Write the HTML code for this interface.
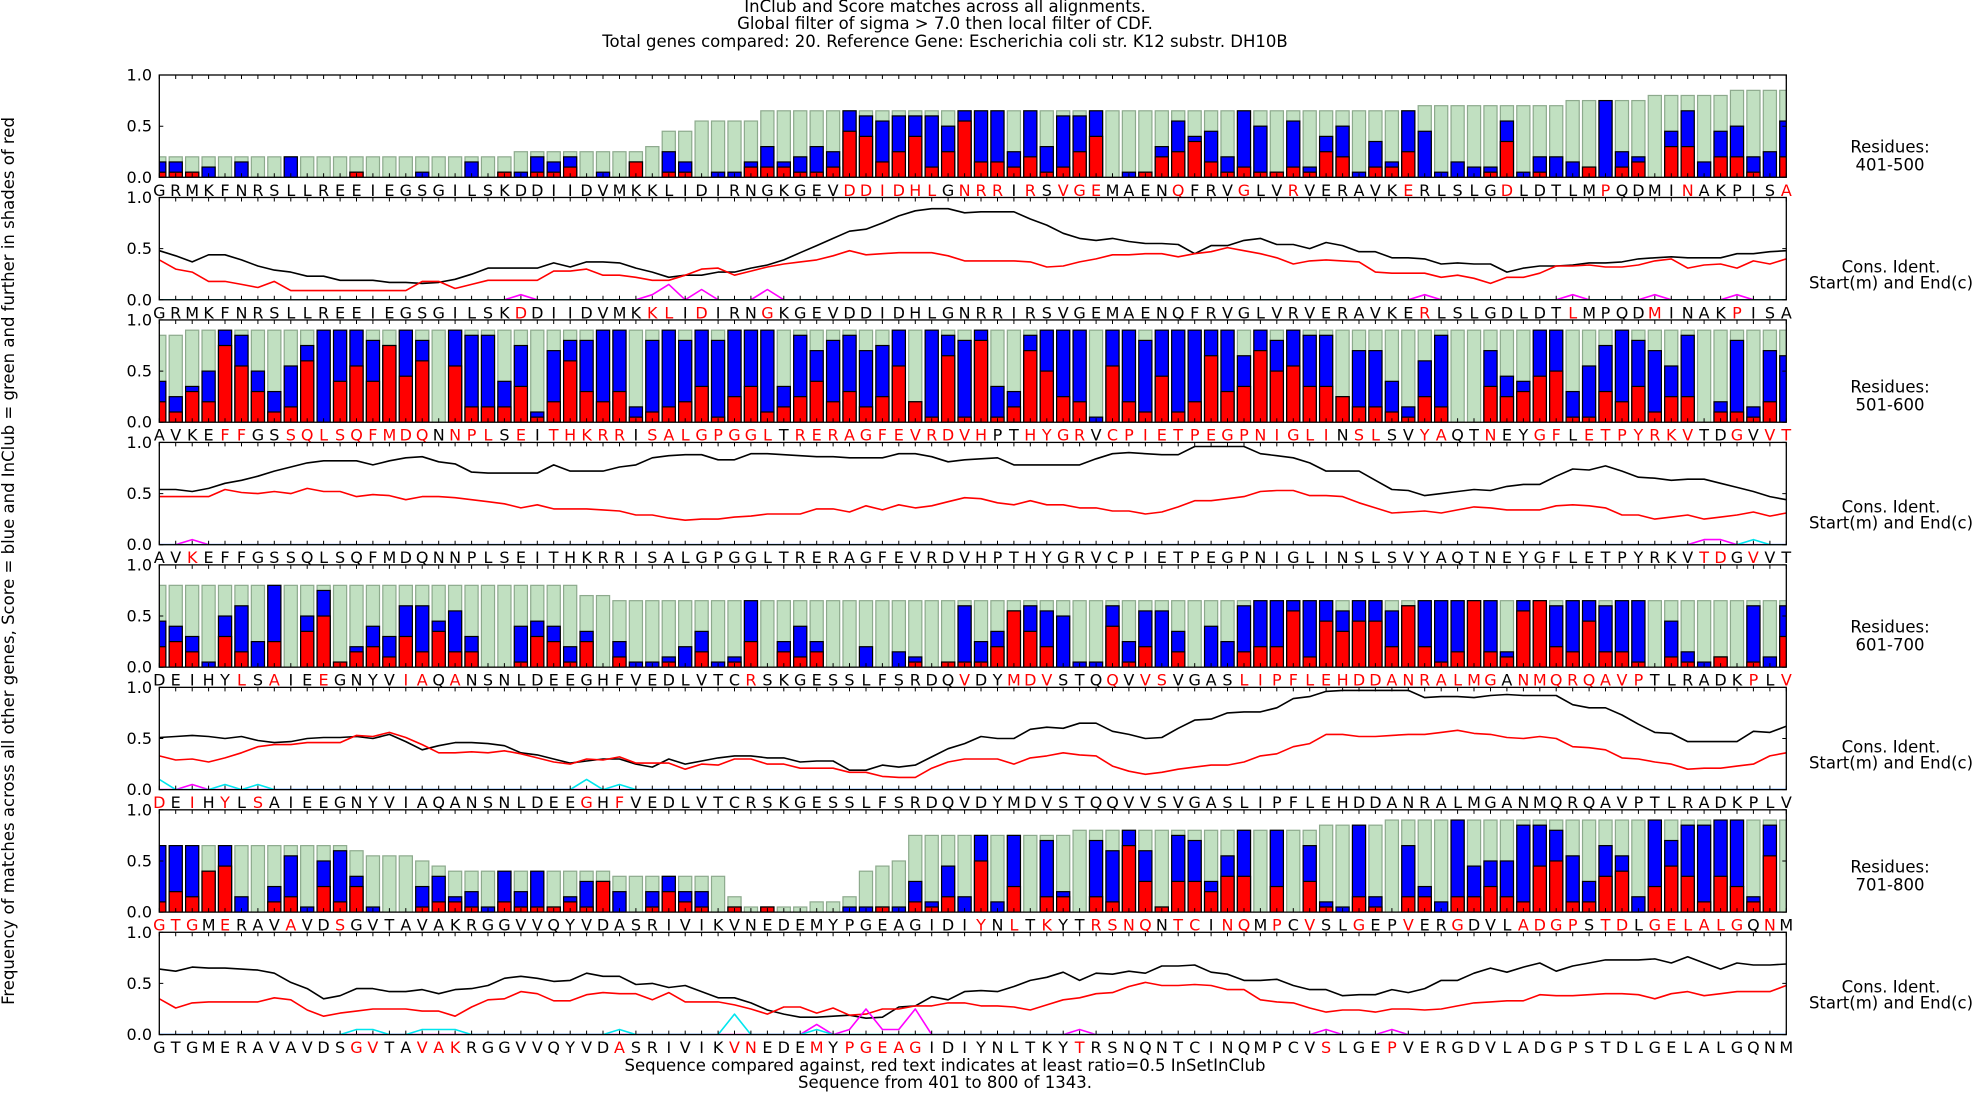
<!DOCTYPE html>
<html><head><meta charset="utf-8">
<style>
html,body{margin:0;padding:0;background:#fff;}
svg{display:block;font-family:"DejaVu Sans","Liberation Sans",sans-serif;}
</style></head>
<body>
<svg id="chart" width="1976" height="1094" viewBox="0 0 1976 1094" xmlns="http://www.w3.org/2000/svg">
<rect x="0" y="0" width="1976" height="1094" fill="#fff"/>
<g font-size="16.5" text-anchor="middle" fill="#000">
<text x="945" y="12">InClub and Score matches across all alignments.</text>
<text x="945" y="29">Global filter of sigma &gt; 7.0 then local filter of CDF.</text>
<text x="945" y="47">Total genes compared: 20. Reference Gene: Escherichia coli str. K12 substr. DH10B</text>
</g>
<text font-size="16.5" text-anchor="middle" transform="translate(14,561) rotate(-90)">Frequency of matches across all other genes, Score = blue and InClub = green and further in shades of red</text>
<g font-size="16.5" text-anchor="middle">
<text x="945" y="1071">Sequence compared against, red text indicates at least ratio=0.5 InSetInClub</text>
<text x="945" y="1088">Sequence from 401 to 800 of 1343.</text>
</g>
<g id="panels"></g>
</svg>
<script>
// ---------- sequences ----------
const seqs = [
"GRMKFNRSLLREEIEGSGILSKDDIIDVMKKLIDIRNGKGEVDDIDHLGNRRIRSVGEMAENQFRVGLVRVERAVKERLSLGDLDTLMPQDMINAKPISA",
"AVKEFFGSSQLSQFMDQNNPLSEITHKRRISALGPGGLTRERAGFEVRDVHPTHYGRVCPIETPEGPNIGLINSLSVYAQTNEYGFLETPYRKVTDGVVT",
"DEIHYLSAIEEGNYVIAQANSNLDEEGHFVEDLVTCRSKGESSLFSRDQVDYMDVSTQQVVSVGASLIPFLEHDDANRALMGANMQRQAVPTLRADKPLV",
"GTGMERAVAVDSGVTAVAKRGGVVQYVDASRIVIKVNEDEMYPGEAGIDIYNLTKYTRSNQNTCINQMPCVSLGEPVERGDVLADGPSTDLGELALGQNM"];
const rangeLabels = ["401-500","501-600","601-700","701-800"];
const red1=[42,43,44,45,46,47,49,50,51,53,55,56,57,62,66,69,76,82,88,93,99];
const red2=[22,30,31,33,37,77,86,91,96];
const red3=[4,5,8,9,10,11,12,13,14,15,16,18,19,20,22,24,25,26,27,28,30,31,32,33,34,35,36,37,39,40,41,42,43,44,45,46,47,48,49,50,53,54,55,56,58,59,60,61,62,63,64,65,66,67,68,69,70,71,73,74,77,78,81,84,85,87,88,89,90,91,92,93,96,98,99];
const red4=[2,94,95,97];
const red5=[5,7,10,15,16,18,36,49,52,53,54,58,60,61,66,67,68,69,70,71,72,73,74,75,76,77,78,79,80,81,83,84,85,86,87,88,89,90,97,99];
const red6=[0,2,4,6,26,28];
const red7=[0,1,2,4,8,11,50,52,54,57,58,59,60,62,63,65,66,68,70,73,76,79,83,84,85,86,88,89,91,92,93,94,95,96,98];
const red8=[12,13,16,17,18,28,35,36,40,42,43,44,45,46,56,71,75];

// ---------- bar data (InClub=green, Score=blue, red) ----------
const g1=[.2,.2,.2,.2,.2,.2,.2,.2,.2,.2, .2,.2,.2,.2,.2,.2,.2,.2,.2,.2, .2,.2,.25,.25,.25,.25,.25,.25,.25,.25, .3,.45,.45,.55,.55,.55,.55,.65,.65,.65,
.65,.65,.65,.65,.65,.65,.65,.65,.65,.65, .65,.65,.65,.65,.65,.65,.65,.65,.65,.65, .65,.65,.65,.65,.65,.65,.65,.65,.65,.65, .65,.65,.65,.65,.65,.65,.65,.7,.7,.7,
.7,.7,.7,.7,.7,.7,.75,.75,.75,.75, .75,.8,.8,.8,.8,.8,.85,.85,.85,.85];
const b1=[.15,.15,.05,.1,0,.15,0,0,.2,0, 0,0,.05,0,0,0,.05,0,0,.15, 0,.05,.05,.2,.15,.2,0,.05,0,.15, 0,.25,.15,0,.05,.05,.15,.3,.15,.2,
.3,.25,.65,.6,.55,.6,.6,.6,.5,.65, .65,.65,.25,.65,.3,.6,.6,.65,0,.05, .05,.3,.55,.4,.45,.2,.65,.5,.05,.55, .1,.4,.5,.05,.35,.15,.65,.45,.05,.15,
.1,.1,.55,.05,.2,.2,.15,.1,.75,.25, .2,0,.45,.65,.15,.45,.5,.2,.25,.55];
const r1=[.05,.05,.05,0,0,0,0,0,0,0, 0,0,.05,0,0,0,0,0,0,0, 0,.05,0,.05,.05,.1,0,0,0,.15, 0,.05,.05,0,0,0,.1,.1,.1,.05,
.05,.1,.45,.4,.15,.25,.4,.1,.25,.55, .15,.15,.1,.2,.05,.1,.25,.4,0,0, .05,.2,.25,.35,.15,.05,.1,.05,.05,.1, .05,.25,.2,0,.1,.1,.25,0,0,0,
0,.05,.35,0,.05,0,0,.1,0,.1, .15,0,.3,.3,0,.2,.2,.05,0,.2];

const g3=[.85,.85,.9,.9,.9,.9,.9,.9,.9,.9, .9,.9,.9,.9,.9,.9,.9,.9,.9,.9, .9,.9,.9,.9,.9,.9,.9,.9,.9,.9, .9,.9,.9,.9,.9,.9,.9,.9,.9,.9,
.9,.9,.9,.9,.9,.9,.9,.9,.9,.9, .9,.9,.9,.9,.9,.9,.9,.9,.9,.9, .9,.9,.9,.9,.9,.9,.9,.9,.9,.9, .9,.9,.9,.9,.9,.9,.9,.9,.9,.9,
.9,.9,.9,.9,.9,.9,.9,.9,.9,.9, .9,.9,.9,.9,.9,.9,.9,.9,.9,.9];
const b3=[.4,.25,.35,.5,.9,.85,.5,.3,.55,.75, .9,.9,.9,.8,.75,.9,.8,0,.9,.85, .85,.4,.75,.1,.7,.8,.8,.9,.9,.15, .8,.9,.8,.9,.8,.9,.9,.9,.35,.85,
.7,.8,.85,.7,.75,.9,.2,.9,.85,.8, .9,.35,.3,.85,.9,.9,.9,.05,.9,.9, .8,.9,.9,.9,.9,.9,.65,.9,.8,.9, .85,.85,.25,.7,.7,.4,.15,.6,.85,0,
0,.7,.45,.4,.9,.9,.3,.55,.75,.9, .8,.7,.55,.85,0,.2,.8,.15,.7,.65];
const r3=[.2,.1,.3,.2,.75,.55,.3,.1,.15,.6, 0,.4,.55,.4,.75,.45,.6,0,.55,.15, .15,.15,.35,.05,.2,.6,.3,.2,.3,.05, .1,.15,.2,.35,.05,.25,.35,.1,.15,.25,
.4,.2,.3,.15,.25,.55,.2,.05,.65,.05, .8,.05,.15,.7,.5,.25,.2,0,.55,.2, .1,.45,.1,.2,.65,.3,.35,.7,.5,.55, .35,.35,.25,.15,.15,.1,.05,.25,.15,0,
0,.35,.25,.3,.45,.5,.05,.05,.3,.2, .35,.1,.25,.25,0,.1,.1,.05,.2,0];

const g5=[.8,.8,.8,.8,.8,.8,.8,.8,.8,.8, .8,.8,.8,.8,.8,.8,.8,.8,.8,.8, .8,.8,.8,.8,.8,.8,.7,.7,.65,.65, .65,.65,.65,.65,.65,.65,.65,.65,.65,.65,
.65,.65,.65,.65,.65,.65,.65,.65,.65,.65, .65,.65,.65,.65,.65,.65,.65,.65,.65,.65, .65,.65,.65,.65,.65,.65,.65,.65,.65,.65, .65,.65,.65,.65,.65,.65,.65,.65,.65,.65,
.65,.65,.65,.65,.65,.65,.65,.65,.65,.65, .65,.65,.65,.65,.65,.65,.65,.65,.65,.65];
const b5=[.45,.4,.3,.05,.5,.6,.25,.8,0,.5, .75,.05,.2,.4,.3,.6,.6,.45,.55,.3, 0,0,.4,.45,.4,.2,.35,0,.25,.05, .05,.1,.2,.35,.05,.1,.65,0,.25,.4,
.25,0,0,.2,0,.15,.1,0,.05,.6, .25,.35,.55,.6,.55,.5,.05,.05,.6,.25, .55,.55,.35,0,.4,.25,.6,.65,.65,.65, .65,.65,.55,.65,.65,.55,.6,.65,.65,.65,
.65,.65,.15,.65,.65,.6,.65,.65,.6,.65, .65,0,.45,.15,.05,.1,0,.6,.1,.6];
const r5=[.2,.25,.15,0,.3,.15,0,.25,0,.35, .5,.05,.15,.2,.1,.3,.15,.35,.15,.15, 0,0,.05,.3,.25,.05,.25,0,.1,0, 0,.05,0,.15,0,.05,.25,0,.15,.1,
.15,0,0,0,0,0,.05,0,.05,.05, .05,.2,.55,.35,.2,0,0,0,.4,.05, .2,0,.15,0,0,0,.15,.2,.2,.55, .1,.45,.35,.45,.45,.2,.6,.2,.05,.15,
.65,.15,.1,.55,.65,.2,.15,.45,.15,.15, .05,0,.1,.05,0,.1,0,.05,0,.3];

const g7=[.65,.65,.65,.65,.65,.65,.65,.65,.65,.65, .65,.65,.6,.55,.55,.55,.5,.45,.4,.4, .4,.4,.4,.4,.4,.4,.4,.4,.35,.35, .35,.35,.35,.35,.35,.15,.05,.05,.05,.05,
.1,.1,.15,.4,.45,.5,.75,.75,.75,.75, .75,.75,.75,.75,.75,.75,.8,.8,.8,.8, .8,.8,.8,.8,.8,.8,.8,.8,.8,.8, .8,.85,.85,.85,.85,.9,.9,.9,.9,.9,
.9,.9,.9,.9,.9,.9,.9,.9,.9,.9, .9,.9,.9,.9,.9,.9,.9,.9,.9,.9];
const b7=[.65,.65,.65,.4,.65,.15,0,.25,.55,.05, .5,.6,.35,.05,0,0,.25,.35,.15,.2, .05,.4,.2,.4,.05,.15,.3,.3,.2,0, .2,.35,.2,.2,0,.05,0,.05,0,0,
0,0,.05,.05,.05,.05,.3,.1,.45,.15, .75,.1,.75,0,.7,.2,0,.7,.6,.8, .6,.05,.75,.7,.3,.55,.8,0,.8,0, .65,.1,.05,.85,.15,0,.65,.25,.1,.9,
.45,.5,.5,.85,.85,.8,.55,.3,.65,.55, .15,.9,.7,.85,.85,.9,.9,.15,.85,0];
const r7=[.1,.2,.15,.4,.45,0,0,.1,.15,0, .25,.1,.25,0,0,0,.05,.1,.1,.05, 0,.1,.05,.05,.05,.1,.05,.3,0,0, .05,.2,.1,.05,0,.05,0,.05,0,0,
0,0,0,0,.05,0,.1,.05,.15,0, .5,0,.25,0,.15,.15,0,.15,.1,.65, .3,.05,.3,.3,.2,.35,.35,0,.25,0, .3,.05,0,.15,.05,0,.15,.15,0,.15,
.15,.25,.15,.1,.45,.5,.1,.1,.35,.4, 0,.25,.45,.35,.1,.35,.25,.1,.55,0];

// ---------- line data (Cons.=black, Ident.=red, Start=magenta, End=cyan) ----------
const k2=[.48,.43,.37,.44,.44,.39,.33,.29,.27,.23, .23,.19,.19,.19,.17,.17,.16,.17,.2,.25, .31,.31,.31,.31,.36,.32,.37,.37,.36,.31, .27,.22,.24,.24,.27,.27,.31,.34,.39,.46,
.53,.6,.67,.69,.75,.82,.87,.89,.89,.85, .86,.86,.86,.79,.73,.65,.6,.58,.6,.57, .55,.55,.54,.45,.53,.53,.58,.6,.54,.54, .5,.56,.53,.47,.47,.41,.41,.4,.35,.36,
.35,.35,.27,.31,.33,.33,.34,.36,.36,.37, .4,.41,.42,.41,.41,.41,.45,.45,.47,.48];
const e2=[.39,.3,.27,.18,.18,.15,.12,.18,.09,.09, .09,.09,.09,.09,.09,.09,.18,.18,.11,.15, .19,.19,.19,.19,.28,.28,.3,.24,.24,.22, .19,.19,.24,.3,.31,.24,.28,.32,.35,.37,
.39,.43,.48,.44,.45,.46,.46,.46,.43,.38, .38,.38,.38,.37,.32,.33,.37,.4,.44,.44, .45,.45,.42,.45,.47,.51,.48,.45,.41,.35, .38,.39,.38,.37,.27,.26,.26,.26,.22,.24,
.21,.16,.22,.22,.26,.33,.33,.34,.32,.32, .34,.38,.4,.31,.34,.35,.31,.38,.35,.4];
const m2=[0,0,0,0,0,0,0,0,0,0, 0,0,0,0,0,0,0,0,0,0, 0,0,.05,0,0,0,0,0,0,0, .05,.15,0,.1,0,0,0,.1,0,0,
0,0,0,0,0,0,0,0,0,0, 0,0,0,0,0,0,0,0,0,0, 0,0,0,0,0,0,0,0,0,0, 0,0,0,0,0,0,0,.05,0,0,
0,0,0,0,0,0,.05,0,0,0, 0,.05,0,0,0,0,.05,0,0,0];
const c2=[0,0,0,0,0,0,0,0,0,0, 0,0,0,0,0,0,0,0,0,0, 0,0,0,0,0,0,0,0,0,0, 0,0,0,0,0,0,0,0,0,0,
0,0,0,0,0,0,0,0,0,0, 0,0,0,0,0,0,0,0,0,0, 0,0,0,0,0,0,0,0,0,0, 0,0,0,0,0,0,0,0,0,0,
0,0,0,0,0,0,0,0,0,0, 0,0,0,0,0,0,0,0,0,0];

const k4=[.54,.54,.52,.55,.6,.63,.67,.72,.76,.8, .82,.82,.82,.78,.82,.85,.86,.81,.79,.71, .7,.7,.7,.7,.78,.72,.72,.72,.76,.78, .85,.87,.88,.88,.83,.83,.89,.89,.88,.87,
.86,.86,.85,.85,.85,.89,.89,.86,.81,.83, .84,.85,.78,.78,.78,.78,.78,.84,.89,.9, .89,.88,.88,.96,.96,.96,.96,.89,.87,.85, .8,.72,.72,.72,.63,.54,.53,.48,.5,.52,
.54,.53,.57,.59,.59,.67,.74,.73,.77,.72, .66,.65,.63,.64,.64,.6,.56,.52,.47,.44];
const e4=[.47,.47,.47,.47,.54,.51,.5,.52,.5,.55, .52,.52,.47,.49,.48,.44,.47,.47,.46,.44, .42,.4,.36,.39,.35,.35,.35,.34,.33,.29, .29,.26,.24,.25,.25,.27,.28,.3,.3,.3,
.35,.35,.32,.38,.34,.39,.36,.38,.42,.46, .45,.41,.39,.43,.39,.39,.36,.36,.33,.33, .3,.32,.37,.43,.43,.45,.47,.52,.53,.53, .48,.48,.47,.41,.36,.31,.32,.33,.31,.34,
.37,.36,.34,.34,.34,.38,.39,.38,.36,.29, .29,.25,.27,.29,.25,.27,.29,.32,.28,.31];
const m4=[0,0,.05,0,0,0,0,0,0,0, 0,0,0,0,0,0,0,0,0,0, 0,0,0,0,0,0,0,0,0,0, 0,0,0,0,0,0,0,0,0,0,
0,0,0,0,0,0,0,0,0,0, 0,0,0,0,0,0,0,0,0,0, 0,0,0,0,0,0,0,0,0,0, 0,0,0,0,0,0,0,0,0,0,
0,0,0,0,0,0,0,0,0,0, 0,0,0,0,.05,.05,0,0,0,0];
const c4=[0,0,0,0,0,0,0,0,0,0, 0,0,0,0,0,0,0,0,0,0, 0,0,0,0,0,0,0,0,0,0, 0,0,0,0,0,0,0,0,0,0,
0,0,0,0,0,0,0,0,0,0, 0,0,0,0,0,0,0,0,0,0, 0,0,0,0,0,0,0,0,0,0, 0,0,0,0,0,0,0,0,0,0,
0,0,0,0,0,0,0,0,0,0, 0,0,0,0,0,0,0,.05,0,0];

const k6=[.51,.52,.53,.52,.50,.52,.48,.46,.47,.50, .51,.51,.52,.50,.54,.47,.39,.43,.46,.46, .45,.43,.36,.34,.30,.26,.28,.30,.30,.25, .22,.30,.25,.28,.31,.33,.33,.31,.31,.27,
.28,.28,.19,.19,.24,.22,.24,.32,.40,.45, .52,.50,.50,.59,.61,.60,.65,.65,.57,.54, .50,.51,.60,.68,.69,.75,.76,.76,.80,.89, .91,.96,.97,.97,.97,.97,.97,.90,.91,.91,
.90,.92,.93,.92,.92,.92,.83,.80,.80,.73, .64,.56,.55,.47,.47,.47,.47,.57,.56,.62];
const e6=[.33,.29,.30,.27,.31,.36,.42,.44,.44,.46, .46,.46,.53,.52,.56,.51,.44,.36,.36,.37, .36,.38,.35,.31,.27,.25,.30,.29,.32,.26, .26,.26,.20,.25,.24,.30,.30,.25,.25,.21,
.21,.21,.17,.17,.13,.12,.12,.21,.27,.30, .30,.30,.25,.31,.33,.36,.34,.33,.23,.18, .15,.17,.20,.22,.24,.24,.27,.33,.35,.42, .45,.54,.54,.52,.52,.53,.54,.54,.56,.58,
.55,.54,.51,.50,.52,.50,.42,.41,.39,.31, .30,.27,.25,.20,.21,.21,.23,.25,.33,.36];
const m6=[0,0,.05,0,0,0,0,0,0,0, 0,0,0,0,0,0,0,0,0,0, 0,0,0,0,0,0,0,0,0,0, 0,0,0,0,0,0,0,0,0,0,
0,0,0,0,0,0,0,0,0,0, 0,0,0,0,0,0,0,0,0,0, 0,0,0,0,0,0,0,0,0,0, 0,0,0,0,0,0,0,0,0,0,
0,0,0,0,0,0,0,0,0,0, 0,0,0,0,0,0,0,0,0,0];
const c6=[.1,0,0,0,.05,0,.05,0,0,0, 0,0,0,0,0,0,0,0,0,0, 0,0,0,0,0,0,.1,0,.05,0, 0,0,0,0,0,0,0,0,0,0,
0,0,0,0,0,0,0,0,0,0, 0,0,0,0,0,0,0,0,0,0, 0,0,0,0,0,0,0,0,0,0, 0,0,0,0,0,0,0,0,0,0,
0,0,0,0,0,0,0,0,0,0, 0,0,0,0,0,0,0,0,0,0];

const k8=[.64,.62,.66,.65,.65,.64,.63,.60,.51,.45, .35,.38,.45,.45,.42,.42,.44,.40,.44,.45, .48,.55,.57,.55,.52,.53,.60,.57,.57,.49, .50,.46,.48,.42,.36,.36,.31,.24,.20,.17,
.17,.18,.19,.16,.17,.27,.28,.37,.34,.42, .43,.42,.47,.53,.56,.61,.53,.60,.59,.62, .60,.67,.67,.68,.61,.59,.53,.53,.54,.48, .44,.44,.38,.39,.39,.44,.41,.45,.53,.53,
.60,.65,.61,.66,.70,.62,.67,.70,.73,.73, .73,.74,.70,.76,.70,.64,.70,.68,.68,.69];
const e8=[.35,.26,.31,.32,.32,.32,.32,.36,.34,.24, .18,.21,.23,.25,.25,.25,.23,.23,.18,.27, .34,.35,.42,.40,.33,.33,.39,.41,.40,.40, .34,.41,.32,.32,.32,.29,.25,.20,.27,.27,
.21,.26,.19,.20,.25,.25,.28,.28,.31,.31, .28,.28,.27,.24,.29,.34,.36,.40,.41,.47, .51,.48,.48,.49,.48,.44,.44,.34,.32,.31, .26,.22,.24,.24,.22,.25,.25,.24,.25,.28,
.31,.32,.33,.33,.39,.38,.38,.39,.40,.40, .39,.35,.40,.42,.38,.40,.42,.42,.42,.48];
const m8=[0,0,0,0,0,0,0,0,0,0, 0,0,0,0,0,0,0,0,0,0, 0,0,0,0,0,0,0,0,0,0, 0,0,0,0,0,0,0,0,0,0,
.1,0,.05,.25,.05,.05,.25,0,0,0, 0,0,0,0,0,0,.05,0,0,0, 0,0,0,0,0,0,0,0,0,0, 0,.05,0,0,0,.05,0,0,0,0,
0,0,0,0,0,0,0,0,0,0, 0,0,0,0,0,0,0,0,0,0];
const c8=[0,0,0,0,0,0,0,0,0,0, 0,0,.05,.05,0,0,.05,.05,.05,0, 0,0,0,0,0,0,0,0,.05,0, 0,0,0,0,0,.2,0,0,0,0,
.05,0,0,0,0,0,0,0,0,0, 0,0,0,0,0,0,0,0,0,0, 0,0,0,0,0,0,0,0,0,0, 0,0,0,0,0,0,0,0,0,0,
0,0,0,0,0,0,0,0,0,0, 0,0,0,0,0,0,0,0,0,0];

const yTicks=[0,0.5,1];
const yTickLabels=["0.0","0.5","1.0"];

// ---------- layout ----------
const NS="http://www.w3.org/2000/svg";
const AX_L=159.3, AX_R=1786.3, TOP0=75, PERIOD=122.47, H=102.3;
const N=100, STEP=(AX_R-AX_L)/(N-1);
const xs=i=>AX_L+i*STEP;
function mk(tag,attrs,parent){const e=document.createElementNS(NS,tag);for(const k in attrs)e.setAttribute(k,attrs[k]);parent.appendChild(e);return e;}

const root=document.getElementById('panels');
const defs=mk('defs',{},root);

const barPanels=[[g1,b1,r1],[g3,b3,r3],[g5,b5,r5],[g7,b7,r7]];
const linePanels=[[k2,e2,m2,c2],[k4,e4,m4,c4],[k6,e6,m6,c6],[k8,e8,m8,c8]];
const redRows=[red1,red2,red3,red4,red5,red6,red7,red8];

for(let p=0;p<8;p++){
  const top=TOP0+p*PERIOD, bot=top+H;
  const ys=v=>top+H*(1-v);
  const isBar=(p%2===0);
  const pair=Math.floor(p/2);
  const g=mk('g',{},root);
  
  
  const cp=mk('clipPath',{id:'clip'+p},defs);
  mk('rect',{x:AX_L,y:top,width:AX_R-AX_L,height:H},cp);
  const plot=mk('g',{'clip-path':'url(#clip'+p+')'},g);
  if(isBar){
    const [gv,bv,rv]=barPanels[pair];
    const bw=STEP*0.8;
    for(let i=0;i<N;i++){
      if(gv[i]>0){
        const r=mk('rect',{x:xs(i)-bw/2,y:ys(gv[i]),width:bw,height:bot-ys(gv[i]),fill:'#c1e0c1',stroke:'#8daa8d','stroke-width':1.2},plot);
        
        
      }
      if(bv[i]>0){
        const r=mk('rect',{x:xs(i)-bw/2,y:ys(bv[i]),width:bw,height:bot-ys(bv[i]),fill:'#0000ff',stroke:'#000','stroke-width':1.2},plot);
        
        
      }
      if(rv[i]>0){
        const r=mk('rect',{x:xs(i)-bw/2,y:ys(rv[i]),width:bw,height:bot-ys(rv[i]),fill:'#ff0000',stroke:'#000','stroke-width':1.2},plot);
        
        
      }
    }
  } else {
    const [kv,ev,mv,cv]=linePanels[pair];
    const series=[[kv,'#000','conservation-line'],[ev,'#ff0000','identity-line'],[mv,'#ff00ff','start-line'],[cv,'#00e5ee','end-line']];
    for(const [arr,col,name] of series){
      const pts=arr.map((v,i)=>xs(i).toFixed(1)+','+ys(v).toFixed(1)).join(' ');
      const pl=mk('polyline',{points:pts,fill:'none',stroke:col,'stroke-width':1.6,'stroke-linejoin':'round'},plot);
      
      
    }
  }
  const fr=mk('rect',{x:AX_L,y:top,width:AX_R-AX_L,height:H,fill:'none',stroke:'#000','stroke-width':1.3},g);
  
  
  let d='';
  for(let i=0;i<N;i++){const x=xs(i).toFixed(1);d+=`M${x},${top}v4M${x},${bot}v-4`;}
  for(const t of yTicks){const y=ys(t).toFixed(1);d+=`M${AX_L},${y}h4M${AX_R},${y}h-4`;}
  const tk=mk('path',{d:d,stroke:'#000','stroke-width':1,fill:'none'},g);
  
  
  yTicks.forEach((t,j)=>{
    const tx=mk('text',{x:152,y:ys(t),'font-size':16,'text-anchor':'end','dominant-baseline':'central'},g);
    tx.textContent=yTickLabels[j];
    
    
  });
  const seq=seqs[pair];
  const reds=new Set(redRows[p]);
  const lg=mk('g',{'font-size':16,'text-anchor':'middle','dominant-baseline':'central'},g);
  
  
  for(let i=0;i<N;i++){
    const t=mk('text',{x:xs(i).toFixed(1),y:(bot+13).toFixed(1),fill:reds.has(i)?'#ff0000':'#000'},lg);
    t.textContent=seq[i];
    
    
  }
  const rl=mk('g',{'font-size':16.5,'text-anchor':'middle','dominant-baseline':'central'},g);
  
  
  if(isBar){
    const yb=147+240*pair;
    mk('text',{x:1890,y:yb},rl).textContent='Residues:';
    mk('text',{x:1890,y:yb+18},rl).textContent=rangeLabels[pair];
  } else {
    const yb=267+240*pair;
    mk('text',{x:1891,y:yb},rl).textContent='Cons. Ident.';
    mk('text',{x:1891,y:yb+16},rl).textContent='Start(m) and End(c)';
  }
}
</script>
</body></html>
